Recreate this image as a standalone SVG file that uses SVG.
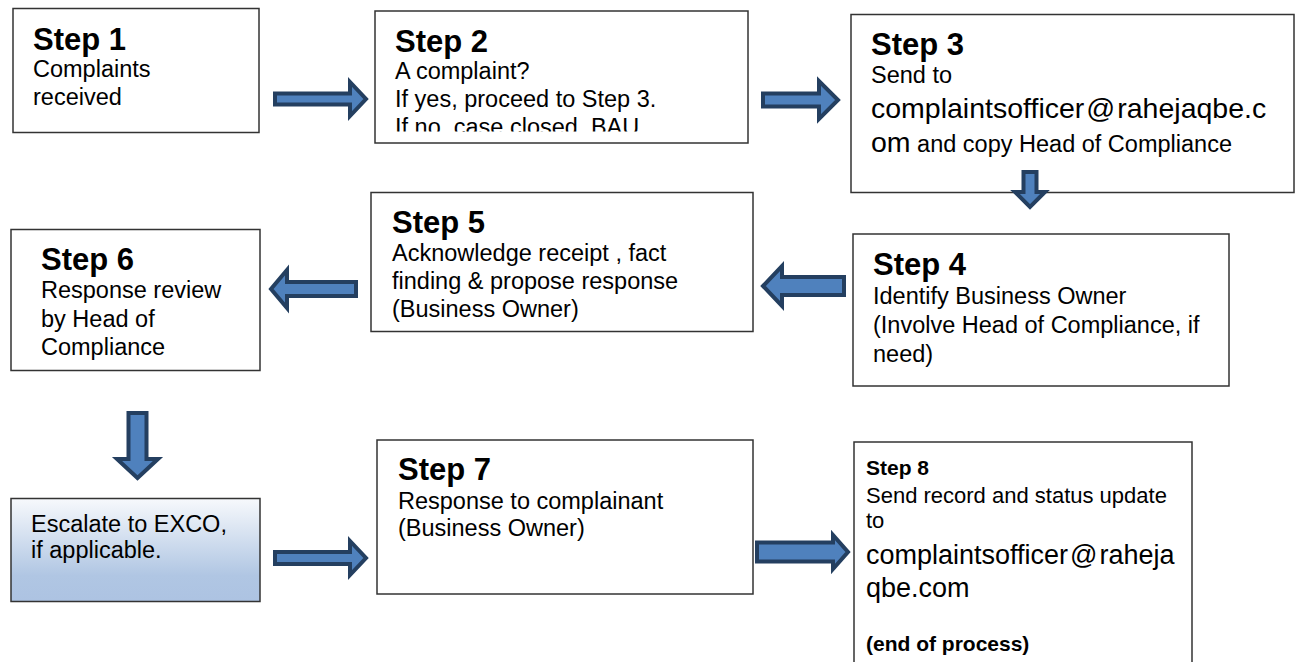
<svg xmlns="http://www.w3.org/2000/svg" width="1304" height="662" viewBox="0 0 1304 662">
<style>
.box{fill:#fff;stroke:#333;stroke-width:1.5}
.t{font-family:"Liberation Sans",Arial,sans-serif;font-size:31px;font-weight:bold;fill:#000}
.b{font-family:"Liberation Sans",Arial,sans-serif;font-size:23.5px;fill:#000}
.em{font-family:"Liberation Sans",Arial,sans-serif;font-size:28.5px;fill:#000}
.b8{font-family:"Liberation Sans",Arial,sans-serif;font-size:22px;fill:#000}
.t8{font-family:"Liberation Sans",Arial,sans-serif;font-size:21px;font-weight:bold;fill:#000}
.em8{font-family:"Liberation Sans",Arial,sans-serif;font-size:27px;fill:#000}
.arr{fill:#4f81bd;stroke:#243f60;stroke-width:4;stroke-linejoin:miter}
</style>
<defs>
<linearGradient id="escg" x1="0" y1="0" x2="0" y2="1">
<stop offset="0" stop-color="#f7f9fc"/>
<stop offset="0.75" stop-color="#b0c6e3"/>
<stop offset="1" stop-color="#adc3e2"/>
</linearGradient>
<clipPath id="clip2"><rect x="375" y="11" width="373" height="120.5"/></clipPath>
</defs>
<rect width="1304" height="662" fill="#fff"/>
<g id="step1">
<rect class="box" x="13" y="8.5" width="246" height="124"/>
<text class="t" x="33" y="50">Step 1</text>
<text class="b" x="33" y="77">Complaints</text>
<text class="b" x="33" y="105">received</text>
</g>
<g id="step2">
<rect class="box" x="375" y="11" width="373" height="132"/>
<text class="t" x="395" y="52">Step 2</text>
<text class="b" x="395" y="79">A complaint?</text>
<text class="b" x="395" y="107">If yes, proceed to Step 3.</text>
<text class="b" x="395" y="135" clip-path="url(#clip2)">If no, case closed, BAU</text>
</g>
<g id="step3">
<rect class="box" x="851" y="14.5" width="443" height="178"/>
<text class="t" x="871" y="55">Step 3</text>
<text class="b" x="871" y="83">Send to</text>
<text class="em" x="871" y="118">complaintsofficer<tspan dx="2">@</tspan><tspan dx="2">rahejaqbe.c</tspan></text>
<text class="b" x="871" y="152"><tspan class="em">om</tspan> and copy Head of Compliance</text>
</g>
<g id="step4">
<rect class="box" x="853" y="234" width="376" height="152"/>
<text class="t" x="873" y="275">Step 4</text>
<text class="b" x="873" y="304">Identify Business Owner</text>
<text class="b" x="873" y="333">(Involve Head of Compliance, if</text>
<text class="b" x="873" y="362">need)</text>
</g>
<g id="step5">
<rect class="box" x="371" y="192.5" width="382" height="139"/>
<text class="t" x="392" y="233">Step 5</text>
<text class="b" x="392" y="261">Acknowledge receipt , fact</text>
<text class="b" x="392" y="289">finding &amp; propose response</text>
<text class="b" x="392" y="317">(Business Owner)</text>
</g>
<g id="step6">
<rect class="box" x="11" y="229.5" width="249" height="141"/>
<text class="t" x="41" y="270">Step 6</text>
<text class="b" x="41" y="298">Response review</text>
<text class="b" x="41" y="327">by Head of</text>
<text class="b" x="41" y="355">Compliance</text>
</g>
<g id="escalate">
<rect x="11" y="498.5" width="249" height="103" fill="url(#escg)" stroke="#333" stroke-width="1.5"/>
<text class="b" x="31" y="532">Escalate to EXCO,</text>
<text class="b" x="31" y="558">if applicable.</text>
</g>
<g id="step7">
<rect class="box" x="377" y="440" width="376" height="154"/>
<text class="t" x="398" y="480">Step 7</text>
<text class="b" x="398" y="509">Response to complainant</text>
<text class="b" x="398" y="536">(Business Owner)</text>
</g>
<g id="step8">
<path d="M854,664 V442 H1192 V664" fill="#fff" stroke="#333" stroke-width="1.5"/>
<text class="t8" x="866" y="475">Step 8</text>
<text class="b8" x="866" y="503">Send record and status update</text>
<text class="b8" x="866" y="528">to</text>
<text class="em8" x="866" y="564">complaintsofficer<tspan dx="2">@</tspan><tspan dx="2">raheja</tspan></text>
<text class="em8" x="866" y="597">qbe.com</text>
<text class="t8" x="866" y="651">(end of process)</text>
</g>
<g id="connectors">
<polygon class="arr" points="275,93.5 350,93.5 350,82 366,99 350,116 350,104.5 275,104.5"/>
<polygon class="arr" points="763,93.5 819,93.5 819,81 838,100 819,119 819,106.5 763,106.5"/>
<polygon class="arr" points="1023.5,172 1036.5,172 1036.5,192 1045,192 1030,207 1015,192 1023.5,192"/>
<polygon class="arr" points="844,277 782,277 782,266 763,286 782,306 782,295 844,295"/>
<polygon class="arr" points="356,282 287,282 287,270 271,289 287,308 287,296 356,296"/>
<polygon class="arr" points="128.5,413 146.5,413 146.5,459 158,459 137.5,478 117,459 128.5,459"/>
<polygon class="arr" points="275,552 350,552 350,541 366,558 350,575 350,564 275,564"/>
<polygon class="arr" points="757,542.5 833,542.5 833,535 848,552 833,569 833,561.5 757,561.5"/>
</g>
</svg>
